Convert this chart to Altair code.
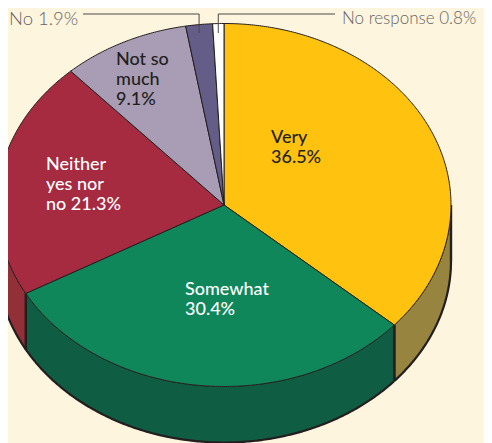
import math
import altair as alt
import pandas as pd

# Values (percent), clockwise from twelve o'clock
names = ["Very", "Somewhat", "Neither yes nor no", "Not so much", "No", "No response"]
shares = [36.5, 30.4, 21.3, 9.1, 1.9, 0.8]
top_colors = ["#FFC20E", "#10875A", "#A62A40", "#A89DB5", "#645D87", "#FFFFFF"]
wall_colors = ["#97843F", "#0F5D42", "#932F36", None, None, None]
label_lines = [["Very", "36.5%"], ["Somewhat", "30.4%"], ["Neither", "yes nor", "no 21.3%"], ["Not so", "much", "9.1%"]]
label_colors = ["#231F20", "#FFFFFF", "#FFFFFF", "#231F20"]
label_xy = [(271, 129), (185, 281), (46, 156), (116, 51)]
callouts = ["No 1.9%", "No response 0.8%"]

BG, INK, GREY, LEAD = "#FEF5DF", "#231F20", "#666464", "#4A4848"
W, H = 476, 435
CX, CY, RX, RY, DEPTH = 216, 197, 227, 181.5, 56

x_scale = alt.Scale(domain=[-CX / RX, (W - CX) / RX], nice=False, zero=False)
y_scale = alt.Scale(domain=[(CY - H) / RY, CY / RY], nice=False, zero=False)


def outline(points, fill=None, width=1.0, color=INK):
    df = pd.DataFrame(points, columns=["x", "y"]).reset_index(names="i")
    kw = {"fill": fill} if fill else {}
    return alt.Chart(df).mark_line(stroke=color, strokeWidth=width, strokeJoin="round", **kw).encode(
        x=alt.X("x:Q", scale=x_scale, axis=None),
        y=alt.Y("y:Q", scale=y_scale, axis=None),
        order="i:Q",
    )


def rim(a, b, drop=0.0):
    n = max(2, int(abs(b - a) * 2))
    return [
        (math.sin(math.radians(a + (b - a) * k / n)),
         math.cos(math.radians(a + (b - a) * k / n)) - drop)
        for k in range(n + 1)
    ]


drop = DEPTH / RY
layers = []
start = 0.0
edges = []
for share in shares:
    edges.append((start, start + share * 3.6))
    start += share * 3.6

# Side walls: only the part of the rim on the near half shows
for (a, b), wall in zip(edges, wall_colors):
    if wall is None:
        continue
    lo, hi = max(a, 90), min(b, 270)
    top = rim(lo, hi)
    low = rim(hi, lo, drop)
    layers.append(outline(top + low + top[:1], fill=wall, width=0.8))
    layers.append(outline(rim(lo, hi, drop), width=2.2))
    for ang in (lo, hi):
        if ang not in (90, 270):
            layers.append(outline(rim(ang, ang)[:1] + rim(ang, ang, drop)[:1], width=2.4))
layers.append(outline(rim(90, 90)[:1] + rim(90, 90, drop)[:1], width=2.4))

# Top face
for (a, b), col in zip(edges, top_colors):
    layers.append(outline([(0, 0)] + rim(a, b) + [(0, 0)], fill=col, width=1.0))

# Leader lines from the two thin slices
elbow = (CY - 6) / RY
inner = (CY - 25) / RY
mid_no = sum(edges[4]) / 2
mid_nr = sum(edges[5]) / 2
x_no = math.sin(math.radians(mid_no))
x_nr = math.sin(math.radians(mid_nr))
layers.append(outline([(-(CX - 75) / RX, elbow), (x_no, elbow), (x_no, inner)], width=1.0, color=LEAD))
layers.append(outline([((327 - CX) / RX, elbow), (x_nr, elbow), (x_nr, inner)], width=1.0, color=LEAD))


def text(lines, x, y, color, size=18, weight=500):
    return alt.Chart(pd.DataFrame({"a": [0]})).mark_text(
        text=lines, font="Lato", fontSize=size, fontWeight=weight, color=color,
        align="left", baseline="top", lineHeight=20,
    ).encode(x=alt.value(x - 8), y=alt.value(y - 8))


for lines, (lx, ly), col in zip(label_lines, label_xy, label_colors):
    layers.append(text(lines, lx, ly, col))
layers.append(text(callouts[0], 9, 10, GREY, 18.5, 300))
layers.append(text(callouts[1], 342, 11, GREY, 17, 300))

chart = alt.layer(*layers).properties(
    width=W, height=H, padding=0, background=BG,
    autosize=alt.AutoSizeParams(type="none"),
).configure_view(stroke=None)

chart.save("out.html", embed_options={"renderer": "svg", "actions": False})
